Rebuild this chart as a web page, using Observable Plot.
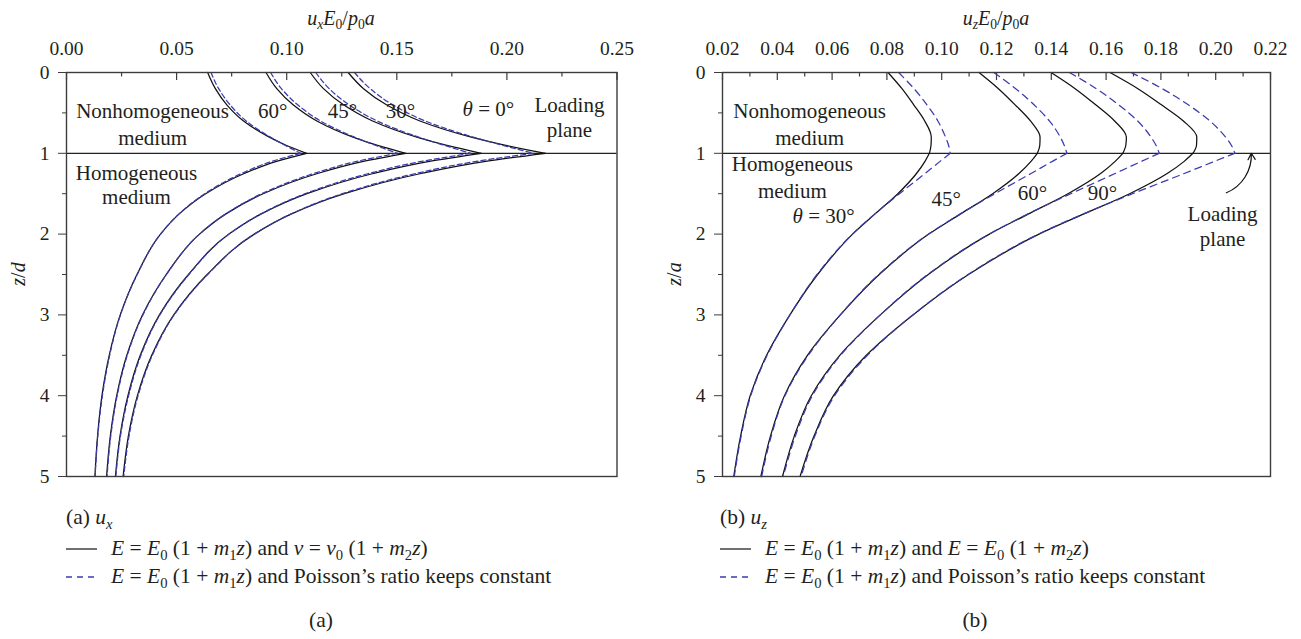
<!DOCTYPE html>
<html><head><meta charset="utf-8">
<script src="https://cdn.jsdelivr.net/npm/d3@7"></script>
<script src="https://cdn.jsdelivr.net/npm/@observablehq/plot@0.6"></script>
<style>
body{margin:0;background:#fff;}
#wrap{position:relative;width:1301px;height:639px;overflow:hidden;font-family:"Liberation Serif",serif;color:#231f20;background:#fff;}
.abs{position:absolute;white-space:nowrap;line-height:1;}
.c{transform:translate(-50%,-50%);}
.vm{transform:translateY(-50%);}
.sb{font-size:68%;position:relative;top:0.32em;font-style:normal;}
.sbi{font-size:68%;position:relative;top:0.32em;font-style:italic;}
i{font-style:italic;}
</style></head>
<body><div id="wrap"></div>
<script>
// ---------- data ----------
const zUp  = [0, 0.2, 0.4, 0.6, 0.8, 0.9, 1];
const zLow = [1, 1.1, 1.25, 1.5, 1.75, 2, 2.5, 3, 3.5, 4, 4.5, 5];

// (a) u_x E0/p0a — solid: E and nu varying; dashed: nu constant
const ux60SolidUp  = [.0641, .0676, .0728, .0804, .0921, .0997, .109];
const ux60SolidLow = [.109, .0954, .0807, .0632, .0512, .0427, .0320, .0244, .0194, .0161, .0141, .0129];
const ux45SolidUp  = [.0906, .0955, .1029, .1137, .1301, .1409, .154];
const ux45SolidLow = [.154, .1348, .1140, .0893, .0724, .0604, .0453, .0345, .0274, .0228, .0199, .0182];
const ux30SolidUp  = [.1107, .1167, .1258, .1390, .1591, .1723, .1883];
const ux30SolidLow = [.1883, .1648, .1393, .1092, .0885, .0738, .0554, .0422, .0335, .0279, .0243, .0222];
const ux0SolidUp   = [.1279, .1349, .1453, .1605, .1838, .1990, .2175];
const ux0SolidLow  = [.2175, .1903, .1610, .1262, .1022, .0853, .0639, .0487, .0387, .0322, .0281, .0257];
const ux60DashUp   = [.0656, .0691, .0743, .0816, .0926, .0992, .1063];
const ux60DashLow  = [.1063, .0933, .0795, .0628, .0511, .0427, .0321, .0245, .0196, .0163, .0142, .0130];
const ux45DashUp   = [.0927, .0976, .1050, .1154, .1308, .1402, .1502];
const ux45DashLow  = [.1502, .1318, .1123, .0887, .0723, .0604, .0454, .0347, .0276, .0230, .0201, .0184];
const ux30DashUp   = [.1132, .1193, .1283, .1411, .1599, .1714, .1836];
const ux30DashLow  = [.1836, .1612, .1372, .1084, .0883, .0738, .0556, .0424, .0338, .0282, .0245, .0224];
const ux0DashUp    = [.1308, .1379, .1482, .1629, .1847, .1980, .2121];
const ux0DashLow   = [.2121, .1861, .1586, .1253, .1020, .0853, .0641, .0489, .0390, .0325, .0284, .0260];

// (b) u_z E0/p0a
const uz30SolidUp  = [.0804, .0855, .0898, .0938, .0962, .0961, .0955];
const uz30SolidLow = [.0955, .0939, .0908, .0840, .0757, .0675, .0547, .0446, .0361, .0301, .0266, .0241];
const uz45SolidUp  = [.1136, .1207, .1268, .1324, .1359, .1358, .1349];
const uz45SolidLow = [.1349, .1326, .1282, .1186, .1069, .0953, .0772, .0630, .0510, .0426, .0375, .0340];
const uz60SolidUp  = [.1399, .1487, .1562, .1631, .1674, .1672, .1661];
const uz60SolidLow = [.1661, .1633, .1580, .1461, .1317, .1174, .0951, .0776, .0628, .0524, .0462, .0419];
const uz90SolidUp  = [.1614, .1716, .1802, .1882, .1931, .1930, .1917];
const uz90SolidLow = [.1917, .1885, .1823, .1686, .1519, .1355, .1098, .0895, .0725, .0605, .0534, .0483];
const uz30DashUp   = [.0843, .0899, .0946, .0986, .1014, .1025, .1031];
const uz30DashLow  = [.1031, .0994, .0939, .0846, .0756, .0674, .0545, .0446, .0363, .0303, .0268, .0243];
const uz45DashUp   = [.1190, .1270, .1337, .1393, .1433, .1447, .1457];
const uz45DashLow  = [.1457, .1404, .1326, .1194, .1068, .0952, .0770, .0630, .0513, .0428, .0378, .0343];
const uz60DashUp   = [.1466, .1564, .1646, .1715, .1764, .1782, .1794];
const uz60DashLow  = [.1794, .1729, .1633, .1471, .1315, .1173, .0949, .0776, .0631, .0528, .0466, .0422];
const uz90DashUp   = [.1691, .1805, .1900, .1979, .2036, .2057, .2070];
const uz90DashLow  = [.2070, .1995, .1885, .1697, .1517, .1353, .1096, .0895, .0729, .0609, .0537, .0487];

// ticks
const zTicks = [0, 1, 2, 3, 4, 5];
const zMinor = [0.5, 1.5, 2.5, 3.5, 4.5];
const uxTicks = [0, 0.05, 0.10, 0.15, 0.20, 0.25];
const uxMinor = [0.025, 0.075, 0.125, 0.175, 0.225];
const uzTicks = [0.02, 0.04, 0.06, 0.08, 0.10, 0.12, 0.14, 0.16, 0.18, 0.20, 0.22];
const uzMinor = [0.03, 0.05, 0.07, 0.09, 0.11, 0.13, 0.15, 0.17, 0.19, 0.21];

// annotations
const uxLabels = ["Nonhomogeneous", "medium", "Homogeneous", "medium", "60°", "45°", "30°", "θ = 0°", "Loading", "plane"];
const uxLabelX = [.0391, .0391, .0318, .0318, .0936, .1253, .1517, .1916, .2284, .2284];
const uxLabelZ = [.474, .808, 1.241, 1.538, .474, .474, .474, .45, .41, .72];
const uzLabels = ["Nonhomogeneous", "medium", "Homogeneous", "medium", "θ = 30°", "45°", "60°", "90°", "Loading", "plane"];
const uzLabelX = [.0518, .0518, .0455, .0455, .0569, .1016, .1331, .1587, .2025, .2025];
const uzLabelZ = [.474, .808, 1.13, 1.464, 1.774, 1.575, 1.496, 1.496, 1.749, 2.058];
const uzArrowX = [.2039, .2130];
const uzArrowZ = [1.489, 1.0];

// ---------- build ----------
const ink = "#231f20", frameInk = "#3c3c3c", blue = "#3b3bb0";
function rows(zs, vs, key) { return zs.map((z, i) => ({z, v: vs[i], key})); }

function panel(o) {
  const idx = o.labels.map((_, i) => i);
  const marks = [
    Plot.axisX({anchor: "top", ticks: o.ticks, tickSize: 0, tickPadding: 18, tickFormat: d3.format(".2f"), label: null, fontSize: 19.5, fill: ink}),
    Plot.ruleX(o.ticks, {x: d => d, y1: 0, y2: 0.1, stroke: frameInk, strokeWidth: 1.2}),
    Plot.ruleX(o.minor, {x: d => d, y1: 0, y2: 0.055, stroke: frameInk, strokeWidth: 1.2}),
    Plot.axisY({ticks: zTicks, tickSize: 8, tickPadding: 9, tickFormat: d3.format("d"), label: null, fontSize: 19.5, fill: ink, stroke: frameInk}),
    Plot.axisY({ticks: zMinor, tickSize: 4, tickFormat: () => "", label: null, stroke: frameInk}),
    Plot.ruleY([1], {stroke: "#222", strokeWidth: 1.3}),
    Plot.line(o.solid, {x: "v", y: "z", z: "key", stroke: "#111", strokeWidth: 1.25, curve: "monotone-y"}),
    Plot.line(o.dashed, {x: "v", y: "z", z: "key", stroke: blue, strokeWidth: 1.25, strokeDasharray: o.dash, curve: "monotone-y"}),
    Plot.frame({stroke: frameInk, strokeWidth: 1.4}),
    Plot.text(idx, {x: i => o.labelX[i], y: i => o.labelZ[i], text: i => o.labels[i], fontSize: 21, fill: ink})
  ];
  if (o.arrow) marks.push(Plot.arrow([0], {x1: o.arrow[0][0], y1: o.arrow[1][0], x2: o.arrow[0][1], y2: o.arrow[1][1], bend: -35, headLength: 9, stroke: "#111", strokeWidth: 1.2}));
  const svg = Plot.plot({
    width: o.width, height: 500,
    marginLeft: 66, marginRight: o.marginRight, marginTop: 72, marginBottom: 24,
    x: {domain: o.domain, axis: null},
    y: {domain: [0, 5], reverse: true, axis: null},
    style: {fontFamily: '"Liberation Serif", serif', fontSize: "19.5px", background: "transparent", color: ink, overflow: "visible"},
    marks
  });
  svg.querySelectorAll("text").forEach(t => {
    if (t.textContent.startsWith("θ")) {
      const rest = t.textContent.slice(1);
      t.textContent = "";
      const a = document.createElementNS("http://www.w3.org/2000/svg", "tspan");
      a.setAttribute("font-style", "italic"); a.textContent = "θ";
      const b = document.createElementNS("http://www.w3.org/2000/svg", "tspan");
      b.textContent = rest;
      t.appendChild(a); t.appendChild(b);
    }
  });
  return svg;
}

const wrap = document.getElementById("wrap");

const leftSolid = [...rows(zUp, ux60SolidUp, "60u"), ...rows(zLow, ux60SolidLow, "60l"),
  ...rows(zUp, ux45SolidUp, "45u"), ...rows(zLow, ux45SolidLow, "45l"),
  ...rows(zUp, ux30SolidUp, "30u"), ...rows(zLow, ux30SolidLow, "30l"),
  ...rows(zUp, ux0SolidUp, "0u"), ...rows(zLow, ux0SolidLow, "0l")];
const leftDash = [...rows(zUp, ux60DashUp, "60u"), ...rows(zLow, ux60DashLow, "60l"),
  ...rows(zUp, ux45DashUp, "45u"), ...rows(zLow, ux45DashLow, "45l"),
  ...rows(zUp, ux30DashUp, "30u"), ...rows(zLow, ux30DashLow, "30l"),
  ...rows(zUp, ux0DashUp, "0u"), ...rows(zLow, ux0DashLow, "0l")];
const rightSolid = [...rows(zUp, uz30SolidUp, "30u"), ...rows(zLow, uz30SolidLow, "30l"),
  ...rows(zUp, uz45SolidUp, "45u"), ...rows(zLow, uz45SolidLow, "45l"),
  ...rows(zUp, uz60SolidUp, "60u"), ...rows(zLow, uz60SolidLow, "60l"),
  ...rows(zUp, uz90SolidUp, "90u"), ...rows(zLow, uz90SolidLow, "90l")];
const rightDash = [...rows(zUp, uz30DashUp, "30u"), ...rows(zLow, uz30DashLow, "30l"),
  ...rows(zUp, uz45DashUp, "45u"), ...rows(zLow, uz45DashLow, "45l"),
  ...rows(zUp, uz60DashUp, "60u"), ...rows(zLow, uz60DashLow, "60l"),
  ...rows(zUp, uz90DashUp, "90u"), ...rows(zLow, uz90DashLow, "90l")];

const left = panel({width: 650, marginRight: 33.5, domain: [0, 0.25], ticks: uxTicks, minor: uxMinor,
  solid: leftSolid, dashed: leftDash, dash: "5,3", labels: uxLabels, labelX: uxLabelX, labelZ: uxLabelZ});
const right = panel({width: 645, marginRight: 31, domain: [0.02, 0.22], ticks: uzTicks, minor: uzMinor,
  solid: rightSolid, dashed: rightDash, dash: "7,5", labels: uzLabels, labelX: uzLabelX, labelZ: uzLabelZ,
  arrow: [uzArrowX, uzArrowZ]});

function place(el, x, y) { el.style.position = "absolute"; el.style.left = x + "px"; el.style.top = y + "px"; wrap.appendChild(el); }
place(left, 0, 0);
place(right, 656, 0);

function html(s, x, y, cls, extra) {
  const d = document.createElement("div");
  d.className = "abs " + (cls || "");
  d.style.left = x + "px"; d.style.top = y + "px";
  if (extra) Object.assign(d.style, extra);
  d.innerHTML = s; wrap.appendChild(d); return d;
}
// axis titles
html('<i>u</i><span class="sbi">x</span><i>E</i><span class="sb">0</span>/<i>p</i><span class="sb">0</span><i>a</i>', 341, 18, "c", {fontSize: "20px"});
html('<i>u</i><span class="sbi">z</span><i>E</i><span class="sb">0</span>/<i>p</i><span class="sb">0</span><i>a</i>', 996, 18, "c", {fontSize: "20px"});
html('<i>z</i>/<i>d</i>', 18, 274, "c", {fontSize: "20px", transform: "translate(-50%,-50%) rotate(-90deg)"});
html('<i>z</i>/<i>a</i>', 674, 274, "c", {fontSize: "20px", transform: "translate(-50%,-50%) rotate(-90deg)"});

// legends
function sample(x, y, dashed) {
  const s = document.createElementNS("http://www.w3.org/2000/svg", "svg");
  s.setAttribute("width", 32); s.setAttribute("height", 6);
  s.style.position = "absolute"; s.style.left = x + "px"; s.style.top = (y - 3) + "px";
  const l = document.createElementNS("http://www.w3.org/2000/svg", "line");
  l.setAttribute("x1", 0); l.setAttribute("x2", 31); l.setAttribute("y1", 3); l.setAttribute("y2", 3);
  l.setAttribute("stroke", dashed ? blue : "#222"); l.setAttribute("stroke-width", 1.3);
  if (dashed) l.setAttribute("stroke-dasharray", "6,5");
  s.appendChild(l); wrap.appendChild(s);
}
const eq1 = '<i>E</i> = <i>E</i><span class="sb">0</span> (1 + <i>m</i><span class="sb">1</span><i>z</i>)';
const fs = {fontSize: "21.5px"};
html('(a) <i>u</i><span class="sbi">x</span>', 66, 518, "vm", fs);
sample(66, 549, false);
html(eq1 + ' and <i>ν</i> = <i>ν</i><span class="sb">0</span> (1 + <i>m</i><span class="sb">2</span><i>z</i>)', 111, 549, "vm", fs);
sample(66, 577, true);
html(eq1 + ' and Poisson’s ratio keeps constant', 111, 577, "vm", fs);
html('(a)', 321, 621, "c", fs);

html('(b) <i>u</i><span class="sbi">z</span>', 720, 518, "vm", fs);
sample(720, 549, false);
html(eq1 + ' and <i>E</i> = <i>E</i><span class="sb">0</span> (1 + <i>m</i><span class="sb">2</span><i>z</i>)', 765, 549, "vm", fs);
sample(720, 577, true);
html(eq1 + ' and Poisson’s ratio keeps constant', 765, 577, "vm", fs);
html('(b)', 975, 621, "c", fs);
</script></body></html>
